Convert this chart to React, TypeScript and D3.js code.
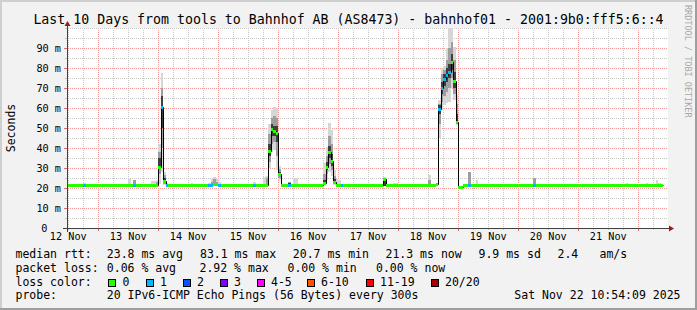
import React from "react";
import * as d3 from "d3";

// ---------- data ----------
const EPOCH = Date.UTC(2025, 10, 13, 0, 0); // hour offsets below are relative to 13 Nov 00:00
const HOUR_MS = 3600 * 1000;
const VIEW_START_H = -12.5;
const VIEW_END_H = 227.5;
const DATA_END_H = 226;

const title = "Last 10 Days from tools to Bahnhof AB (AS8473) - bahnhof01 - 2001:9b0:fff5:6::4";
const yAxisTitle = "Seconds";
const watermark = "RRDTOOL / TOBI OETIKER";

const yTickValues = [0, 10, 20, 30, 40, 50, 60, 70, 80, 90];
const yTickLabels = ["0", "10 m", "20 m", "30 m", "40 m", "50 m", "60 m", "70 m", "80 m", "90 m"];
const dayLabelDays = [12, 13, 14, 15, 16, 17, 18, 19, 20, 21];
const dayLabels = ["12 Nov", "13 Nov", "14 Nov", "15 Nov", "16 Nov", "17 Nov", "18 Nov", "19 Nov", "20 Nov", "21 Nov"];

// median rtt (ms): [hour, value] – value holds until the next entry
const medianChanges: [number, number][] = [
  [-13, 21.3],
  [24, 30.7], [25, 60.7], [26, 23.7], [27, 21.3],
  [46, 22.0], [48, 21.3],
  [68, 38.7], [69, 49.7], [70, 48.6], [71, 47.7], [72, 27.0], [73, 21.3],
  [90, 22.7], [91, 30.7], [92, 37.8], [93, 33.7], [94, 23.2], [95, 21.3],
  [114, 24.3], [115, 21.3],
  [135, 21.8], [136, 59.5], [137, 70.2], [138, 74.5], [139, 76.5], [140, 78.0],
  [141, 83.1], [142, 73.7], [143, 53.2], [144, 20.7], [146, 21.3],
];

// hours with 1 lost packet
const lossOneHours = [-6, 14, 25, 27, 44, 45, 48, 62, 76, 97, 136, 137, 138, 139, 140, 148, 174];

// smoke: [hour, min, max, midLo, midHi, coreLo, coreHi] (ms)
const smoke: (number | null)[][] = [
  [-6, 21, 22.6], [0, 21, 22.2], [8, 21, 22.0], [9, 21, 22.0], [12, 21, 24.3],
  [14, 21, 24.0, 21.2, 24.0],
  [21, 21, 23.7], [22, 21, 23.7], [23, 21, 24.2, 21.3, 22.8],
  [24, 22, 42, 27, 38, 29.5, 35],
  [25, 28, 77.5, 40, 70, 50, 66],
  [26, 21.5, 28, 22, 26.5, 22.8, 25],
  [27, 21, 22.5], [37, 21, 22.3],
  [44, 21, 22.5], [45, 21, 24.5, 21.3, 23], [46, 21, 25.7, 21.3, 24.5], [47, 21, 24.5, 21.3, 23], [48, 21, 23],
  [56, 21, 22.0], [62, 21, 23], [66, 21, 25.7], [67, 21.5, 26, 22, 25],
  [68, 30, 52, 33, 47, 36, 42],
  [69, 38, 59, 42, 55, 46, 52],
  [70, 39, 60.3, 43, 56, 46, 51],
  [71, 29, 59.8, 36, 55, 43, 51],
  [72, 24, 31, 25, 29.5, 26, 28],
  [76, 21, 23, 21.2, 23, 21.2, 22.5],
  [78, 21, 24.8], [79, 21, 24.8],
  [90, 21.5, 32.3, 22, 27, 22.3, 24],
  [91, 24, 40.7, 27, 36, 29, 33],
  [92, 28, 52.3, 32, 46, 35, 41],
  [93, 26, 49, 29, 42, 31, 37],
  [94, 21.5, 29, 22, 26, 22.5, 24.5],
  [95, 21, 24.5], [96, 21, 24],
  [114, 21, 25.7, 21, 25, 21.2, 24.8],
  [118, 21, 22.3], [119, 21, 22.3],
  [132, 21, 26.5, 21.2, 24],
  [135, 21, 22.5],
  [136, 45, 64, 52, 62, 57, 61.5],
  [137, 59, 80, 63, 77, 67, 73],
  [138, 61.5, 81, 66, 79, 71, 77],
  [139, 62.5, 90, 68, 84, 73, 80],
  [140, 63, 100, 70, 90, 75, 82],
  [141, 70, 101, 75, 93, 79, 87],
  [142, 64, 90.7, 67, 84, 70, 78],
  [143, 51.5, 66.5, 52, 62, 53, 57],
  [148, 21, 28.2, 21, 28.2],
  [151, 21, 24],
  [174, 21, 25.2, 21, 25.2],
  [211, 21, 22.7], [213, 21, 22], [216, 21, 22], [219, 21, 22.7],
  [220, 21, 22], [221, 21, 22], [223, 21, 24], [224, 21, 22.7],
];

const rttLegend = ["median rtt:", "23.8 ms avg", "83.1 ms max", "20.7 ms min", "21.3 ms now", "9.9 ms sd", "2.4", "am/s"];
const lossLegend = ["packet loss:", "0.06 % avg", "2.92 % max", "0.00 % min", "0.00 % now"];
const lossColorTitle = "loss color:";
const lossColorLabels = ["0", "1", "2", "3", "4-5", "6-10", "11-19", "20/20"];
const lossColors = ["#26ff00", "#00b8ff", "#0059ff", "#7e00ff", "#ff00ff", "#ff5500", "#ff0000", "#a10000"];
const probeLegend = ["probe:", "20 IPv6-ICMP Echo Pings (56 Bytes) every 300s"];
const timestamp = "Sat Nov 22 10:54:09 2025";

// ---------- layout ----------
const W = 697, H = 310;
const X0 = 67, X1 = 667, Y0 = 228, Y1 = 28;
const FONT = "'DejaVu Sans Mono', monospace";
const rttX = [15.5, 106.8, 200, 292.8, 385.5, 478.5, 557.5, 599.5];
const lossX = [15.5, 106.8, 199.5, 287.5, 376];
const boxX = [108, 145.5, 182.5, 219.5, 256.5, 306.5, 365.5, 430.5];
const rowY = [258.2, 271.8, 285.5, 299];

const hToDate = (h: number) => new Date(EPOCH + h * HOUR_MS);

export default function App() {
  const x = d3.scaleUtc().domain([hToDate(VIEW_START_H), hToDate(VIEW_END_H)]).range([X0, X1]);
  const y = d3.scaleLinear().domain([0, 100]).range([Y0, Y1]);
  const xh = (h: number) => x(hToDate(h));
  const px = (v: number) => Math.round(v) + 0.5;

  const start = hToDate(VIEW_START_H);
  const end = hToDate(VIEW_END_H);
  const majorTimes = d3.utcDay.range(start, end);
  const minorTimes = d3.utcHour.every(6)!.range(start, end).filter((d) => d.getUTCHours() !== 0);

  const minorY = d3.range(5, 101, 5).filter((v) => v % 10 !== 0 || v === 100);
  const majorY = yTickValues.filter((v) => v > 0);

  // median step path (black)
  const stepPts: [number, number][] = medianChanges.map(([h, v]) => [xh(h), y(v)]);
  stepPts.push([xh(DATA_END_H), y(medianChanges[medianChanges.length - 1][1])]);
  const stepLine = d3
    .line<[number, number]>()
    .x((d) => px(d[0]))
    .y((d) => px(d[1]))
    .curve(d3.curveStepAfter);

  // colored median segments
  const valueAt = (h: number) => {
    let v = medianChanges[0][1];
    for (const [t, val] of medianChanges) if (t <= h) v = val;
    return v;
  };
  const segs: { h0: number; h1: number; v: number; c: string }[] = [];
  for (let h = medianChanges[0][0]; h < DATA_END_H; h++) {
    const v = valueAt(h);
    const c = lossOneHours.includes(h) ? lossColors[1] : lossColors[0];
    const last = segs[segs.length - 1];
    if (last && last.v === v && last.c === c && last.h1 === h) last.h1 = h + 1;
    else segs.push({ h0: h, h1: h + 1, v, c });
  }

  const bandRect = (h: number, lo: number, hi: number, fill: string, key: string) => {
    const xa = Math.round(xh(h));
    const xb = Math.round(xh(h + 1));
    const ya = Math.round(y(hi));
    const yb = Math.round(y(lo));
    return <rect key={key} x={xa} y={ya} width={xb - xa} height={Math.max(0, yb - ya)} fill={fill} />;
  };

  return (
    <svg
      width={W}
      height={H}
      viewBox={`0 0 ${W} ${H}`}
      style={{ position: "absolute", left: 0, top: 0, display: "block" }}
      fontFamily={FONT}
    >
      <defs>
        <clipPath id="plotClip">
          <rect x={X0} y={Y1} width={X1 - X0 + 1} height={Y0 - Y1} />
        </clipPath>
      </defs>
      {/* background and frame */}
      <rect x={0} y={0} width={W} height={H} fill="#f2f2f2" />
      <rect x={0} y={0} width={W} height={2} fill="#cfcfcf" />
      <rect x={0} y={0} width={2} height={H} fill="#cfcfcf" />
      <rect x={0} y={H - 2} width={W} height={2} fill="#9e9e9e" />
      <rect x={W - 2} y={0} width={2} height={H} fill="#9e9e9e" />
      <rect x={X0} y={Y1} width={X1 - X0 + 1} height={Y0 - Y1} fill="#ffffff" />

      {/* grid */}
      <g shapeRendering="crispEdges">
        {minorTimes.map((d, i) => (
          <g key={"mv" + i}>
            <line x1={px(x(d))} x2={px(x(d))} y1={Y0 - 1} y2={Y1 + 1} stroke="#c6c6c6" strokeDasharray="1,1" />
            <line x1={px(x(d))} x2={px(x(d))} y1={Y0} y2={Y0 + 2} stroke="#c6c6c6" />
          </g>
        ))}
        {minorY.map((v, i) => (
          <g key={"mh" + i}>
            <line x1={X0 - 1} x2={X1 + 1} y1={px(y(v))} y2={px(y(v))} stroke="#c6c6c6" strokeDasharray="1,1" />
            <line x1={X0 - 2} x2={X0} y1={px(y(v))} y2={px(y(v))} stroke="#c6c6c6" />
          </g>
        ))}
        {majorTimes.map((d, i) => (
          <g key={"Mv" + i}>
            <line x1={px(x(d))} x2={px(x(d))} y1={Y0 - 1} y2={Y1 + 1} stroke="#f29a9a" strokeDasharray="1,1" />
            <line x1={px(x(d))} x2={px(x(d))} y1={Y0} y2={Y0 + 3} stroke="#e07070" />
          </g>
        ))}
        {majorY.map((v, i) => (
          <g key={"Mh" + i}>
            <line x1={X0 - 1} x2={X1 + 1} y1={px(y(v))} y2={px(y(v))} stroke="#f29a9a" strokeDasharray="1,1" />
            <line x1={X0 - 3} x2={X0} y1={px(y(v))} y2={px(y(v))} stroke="#e07070" />
          </g>
        ))}
      </g>

      {/* smoke */}
      <g clipPath="url(#plotClip)" shapeRendering="crispEdges">
        {smoke.map((s, i) => bandRect(s[0] as number, s[1] as number, s[2] as number, "#d6d6d6", "so" + i))}
        {smoke
          .filter((s) => s[3] != null)
          .map((s, i) => bandRect(s[0] as number, s[3] as number, s[4] as number, "#9e9e9e", "sm" + i))}
        {smoke
          .filter((s) => s[5] != null)
          .map((s, i) => bandRect(s[0] as number, s[5] as number, s[6] as number, "#3e3e3e", "sc" + i))}
      </g>

      {/* median */}
      <g clipPath="url(#plotClip)">
        <path d={stepLine(stepPts) || ""} fill="none" stroke="#000" strokeWidth={1} />
        {segs.map((s, i) => (
          <line
            key={"seg" + i}
            x1={Math.round(xh(s.h0))}
            x2={Math.round(xh(s.h1))}
            y1={px(y(s.v))}
            y2={px(y(s.v))}
            stroke={s.c}
            strokeWidth={3}
            shapeRendering="crispEdges"
          />
        ))}
      </g>

      {/* axes */}
      <g shapeRendering="crispEdges">
        <line x1={X0 - 4} x2={X1 + 4} y1={Y0 + 0.5} y2={Y0 + 0.5} stroke="#404040" />
        <line x1={X0 + 0.5} x2={X0 + 0.5} y1={Y0 + 4} y2={Y1 - 4} stroke="#404040" />
      </g>
      <path d={`M${X1 + 2},${Y0 - 2.5} L${X1 + 2},${Y0 + 3.5} L${X1 + 7},${Y0 + 0.5} Z`} fill="#a01818" />
      <path d={`M${X0 - 2.5},${Y1 - 2} L${X0 + 3.5},${Y1 - 2} L${X0 + 0.5},${Y1 - 7} Z`} fill="#a01818" />

      {/* y tick labels */}
      {yTickValues.map((v, i) => (
        <text
          key={"yl" + i}
          x={v === 0 ? 47.3 : 61}
          y={y(v) + 3.8}
          fontSize={10.2}
          textAnchor="end"
          fill="#000"
        >
          {yTickLabels[i]}
        </text>
      ))}
      {/* x day labels */}
      {dayLabelDays.map((d, i) => (
        <text
          key={"xl" + i}
          x={x(new Date(Date.UTC(2025, 10, d, 12)))}
          y={240}
          fontSize={10.2}
          textAnchor="middle"
          fill="#000"
        >
          {dayLabels[i]}
        </text>
      ))}

      {/* titles */}
      <text x={348.5} y={24} fontSize={13.25} textAnchor="middle" fill="#000">
        {title}
      </text>
      <text transform={`translate(15,${(Y0 + Y1) / 2}) rotate(-90)`} fontSize={11.5} textAnchor="middle" fill="#000">
        {yAxisTitle}
      </text>
      <text transform="translate(685,5) rotate(90)" fontSize={8.5} fill="#a8a8a8">
        {watermark}
      </text>

      {/* legend */}
      <g fontSize={11.5} fill="#000">
        {rttLegend.map((t, i) => (
          <text key={"r" + i} x={rttX[i]} y={rowY[0]}>{t}</text>
        ))}
        {lossLegend.map((t, i) => (
          <text key={"l" + i} x={lossX[i]} y={rowY[1]}>{t}</text>
        ))}
        <text x={15.5} y={rowY[2]}>{lossColorTitle}</text>
        {lossColorLabels.map((t, i) => (
          <g key={"c" + i}>
            <rect
              x={boxX[i] + 0.5}
              y={279.5}
              width={7}
              height={7}
              fill={lossColors[i]}
              stroke="#000"
              strokeWidth={1}
              shapeRendering="crispEdges"
            />
            <text x={boxX[i] + 14.5} y={rowY[2]}>{t}</text>
          </g>
        ))}
        <text x={15.5} y={rowY[3]}>{probeLegend[0]}</text>
        <text x={106.8} y={rowY[3]}>{probeLegend[1]}</text>
        <text x={680.5} y={rowY[3]} textAnchor="end">{timestamp}</text>
      </g>
    </svg>
  );
}
